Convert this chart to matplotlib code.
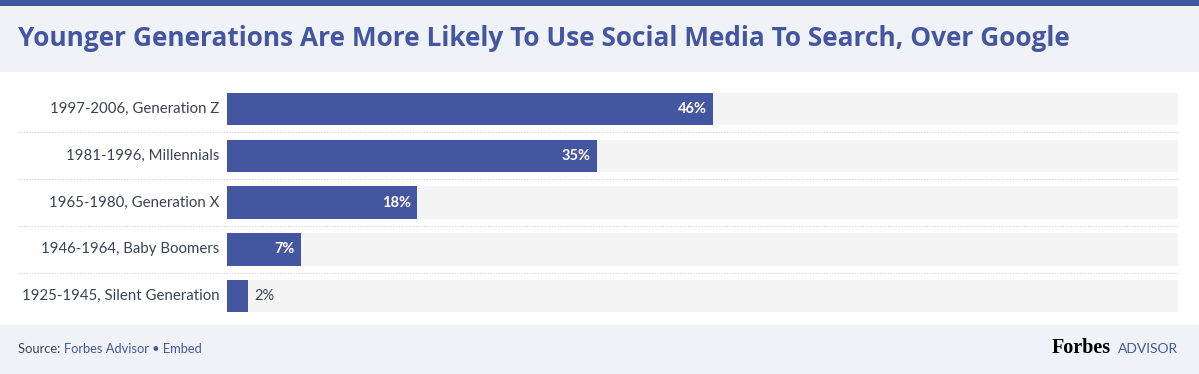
import matplotlib
matplotlib.use("Agg")
import matplotlib.pyplot as plt
from matplotlib.patches import Rectangle

categories = ["1997-2006, Generation Z", "1981-1996, Millennials", "1965-1980, Generation X",
              "1946-1964, Baby Boomers", "1925-1945, Silent Generation"]
values = [46, 35, 18, 7, 2]
value_labels = ["46%", "35%", "18%", "7%", "2%"]
axis_max = 90

W, H = 1199, 374
BLUE = "#4556a1"
LIGHT = "#eff2f7"
TRACK = "#f4f4f4"
TEXT = "#3b4252"

fig = plt.figure(figsize=(W / 100, H / 100), dpi=100)
fig.patch.set_facecolor("white")

def fx(px):
    return px / W

def fy(py):
    return 1 - py / H

fig.patches.append(Rectangle((0, fy(72)), 1, fy(6) - fy(72), transform=fig.transFigure,
                             facecolor=LIGHT, edgecolor="none", zorder=0))
fig.patches.append(Rectangle((0, fy(6)), 1, 1 - fy(6), transform=fig.transFigure,
                             facecolor=BLUE, edgecolor="none", zorder=0))
fig.patches.append(Rectangle((0, 0), 1, fy(325), transform=fig.transFigure,
                             facecolor=LIGHT, edgecolor="none", zorder=0))

title = fig.text(fx(18), fy(38), "Younger Generations Are More Likely To Use Social Media To Search, Over Google",
                 fontsize=17, fontweight="bold", color=BLUE, va="center", ha="left", family="Open Sans")
fig.canvas.draw()
tw = title.get_window_extent().width
title.set_fontsize(17 * 1052 / tw)

ax = fig.add_axes([fx(227), fy(319.6), fx(1178) - fx(227), fy(85.6) - fy(319.6)])
ax.set_xlim(0, axis_max)
ax.set_ylim(len(categories) - 0.5, -0.5)
ypos = list(range(len(categories)))
ax.barh(ypos, [axis_max] * len(categories), height=0.69, color=TRACK, zorder=1)
ax.barh(ypos, values, height=0.69, color=BLUE, zorder=2)
for y, v, lab, cat in zip(ypos, values, value_labels, categories):
    if v >= 5:
        ax.text(v - 0.6, y, lab, color="white", ha="right", va="center", fontsize=10.5,
                fontweight="bold", family="Lato", zorder=3)
    else:
        ax.text(v + 0.6, y, lab, color=TEXT, ha="left", va="center", fontsize=10.5,
                family="Lato", zorder=3)
    ax.text(-0.7, y, cat, color=TEXT, ha="right", va="center", fontsize=10.8, family="Lato")
for y in ypos[:-1]:
    ax.axhline(y + 0.5, xmin=(18 - 227) / 951, xmax=1, color="#cccccc", lw=0.8,
               linestyle=(0, (1, 1.5)), clip_on=False, zorder=0)
ax.axis("off")

t = fig.text(fx(18), fy(349), "Source: ", fontsize=9.3, color=TEXT, va="center", family="Lato")
fig.canvas.draw()
bb = t.get_window_extent()
fig.text(bb.x1 / W, fy(349), "Forbes Advisor \u2022 Embed", fontsize=9.3, color=BLUE,
         va="center", family="Lato")
fig.text(fx(1178), fy(349), "ADVISOR", fontsize=10, color=BLUE, va="center", ha="right", family="Lato")
fig.text(fx(1111), fy(348), "Forbes", fontsize=14.5, color="black", va="center", ha="right",
         family="Liberation Serif", fontweight="bold")

fig.savefig("out.png", dpi=100, facecolor=fig.get_facecolor())
